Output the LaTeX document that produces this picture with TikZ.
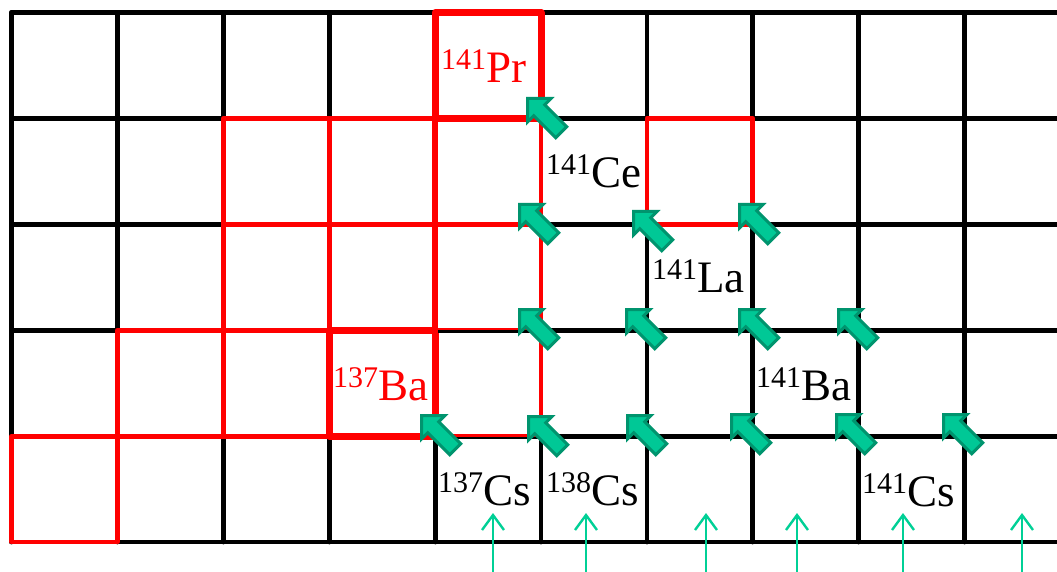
\documentclass[tikz,border=0pt]{standalone}
\usepackage{fontspec}
\setmainfont{Liberation Serif}
\usetikzlibrary{arrows.meta}
\definecolor{decfill}{RGB}{0,200,150}
\definecolor{decline}{RGB}{0,148,110}
\definecolor{nred}{RGB}{255,0,0}
\definecolor{flux}{RGB}{0,208,150}
\newcommand\isotope[2]{\raisebox{13pt}{\fontsize{30}{30}\selectfont #1}#2}
\tikzset{
  gridline/.style={draw=black, line width=4.8pt, line cap=round},
  redthin/.style={draw=nred, line width=4.8pt, line join=round},
  redthick/.style={draw=nred, line width=7pt, line join=round},
  decaystyle/.style={fill=decfill, draw=decline, line width=3pt, line join=miter},
  decay/.pic={\filldraw[decaystyle] (1.5,1.5) -- (25,1.5) -- (18.7,7.8) -- (40.7,29.8) -- (29.8,40.7) -- (7.8,18.7) -- (1.5,25) -- cycle;},
  lbl/.style={font=\fontsize{45}{50}\selectfont, inner sep=0pt, anchor=base west},
  fluxarrow/.style={draw=flux, line width=2.4pt, -{Straight Barb[length=15pt,width=22pt]}}
}
\begin{document}
\begin{tikzpicture}[x=1pt,y=-1pt]
\useasboundingbox (0,0) rectangle (1057,572);
\fill[white] (0,0) rectangle (1057,572);
% black grid
\foreach \i in {0,...,9}
  \draw[gridline] ({11.5+105.9*\i},12.5) -- ({11.5+105.9*\i},542);
\foreach \j in {0,...,5}
  \draw[gridline] (11.5,{12.5+105.9*\j}) -- (1065,{12.5+105.9*\j});
% red cells
\foreach \i/\j in {2/1,3/1,4/1,6/1,2/2,3/2,4/2,1/3,2/3,4/3,0/4}
  \draw[redthin] ({11.5+105.9*\i},{12.5+105.9*\j}) rectangle +(105.9,105.9);
\draw[redthick] ({11.5+105.9*4},12.5) rectangle +(105.9,105.9);
\draw[redthick] ({11.5+105.9*3},{12.5+105.9*3}) rectangle +(105.9,105.9);
\draw[draw=nred, line width=6.5pt] ({11.5+105.9*4},12.5) -- ({11.5+105.9*4},{12.5+105.9*4});
% black edge showing through below the red at the top of the 138Ba cell
\draw[draw=black, line width=3pt] ({11.5+105.9*4+3},{12.5+105.9*3+1.5}) -- ({11.5+105.9*5-3},{12.5+105.9*3+1.5});
\draw[draw=black, line width=2.5pt] ({11.5+105.9*4+3},{12.5+105.9*4+2}) -- ({11.5+105.9*5-3},{12.5+105.9*4+2});
% decay arrows
\foreach \p in {(526,97),(518,203),(632,210),(738,203),(518,308),(625,308),(738,308),(837,308),(420,414),(527,415),(626,414),(730,413),(835,413),(942,413)}
  \pic at \p {decay};
% labels
\node[lbl, text=nred] (pr141) at (441,83) {\isotope{141}{Pr}};
\node[lbl] (ce141) at (546,188) {\isotope{141}{Ce}};
\node[lbl] (la141) at (652,292) {\isotope{141}{La}};
\node[lbl] (ba141) at (756,400) {\isotope{141}{Ba}};
\node[lbl, text=nred] (ba137) at (333,400) {\isotope{137}{Ba}};
\node[lbl] (cs137) at (438,505) {\isotope{137}{Cs}};
\node[lbl] (cs138) at (546,505) {\isotope{138}{Cs}};
\node[lbl] (cs141) at (862,506) {\isotope{141}{Cs}};
% neutron flux arrows
\foreach \k/\x in {1/493,2/586,3/706,4/797,5/903,6/1022}{
  \coordinate (fs\k) at (\x,580);
  \coordinate (fe\k) at (\x,513);
  \draw[fluxarrow] (fs\k) -- (fe\k);
}
\end{tikzpicture}
\end{document}
